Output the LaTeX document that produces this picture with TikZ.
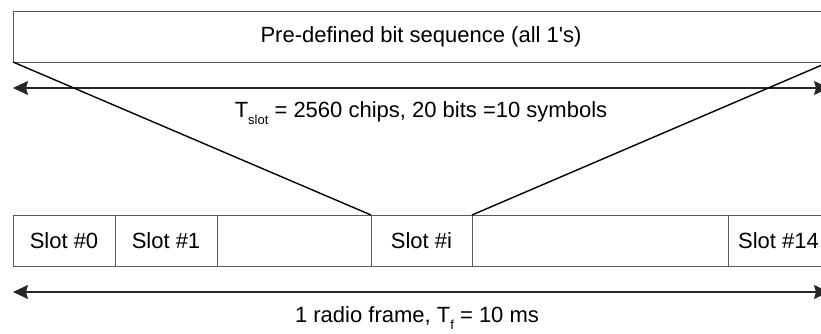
\documentclass[tikz,border=0pt]{standalone}
\usepackage{fontspec}
\setmainfont{Liberation Sans}
\usetikzlibrary{arrows.meta}
\definecolor{boxline}{gray}{0.35}
\tikzset{
  every node/.style={font=\fontsize{22}{26}\selectfont, inner sep=0pt, outer sep=0pt},
  field/.style={draw=boxline, line width=1pt, anchor=north west, minimum height=51pt},
  span/.style={line width=1.1pt, draw=black!85, {Stealth[length=15pt,width=14pt,inset=2pt]}-{Stealth[length=15pt,width=14pt,inset=2pt]}},
  fan/.style={line width=1.4pt, draw=black},
  caption/.style={anchor=base}
}
\newcommand{\lowsub}[1]{\raisebox{-0.35em}{\fontsize{13}{13}\selectfont #1}}
\begin{document}
\begin{tikzpicture}[x=1pt, y=-1pt]
\useasboundingbox (0,0) rectangle (821,333);

% the pre-defined bit sequence of one slot
\node[field, minimum width=816pt] (seq) at (13,11) {};
\node at (seq.center) {Pre-defined bit sequence (all 1\textquotesingle s)};

% slot length
\coordinate (tl) at (13,88);
\coordinate (tr) at (829,88);
\draw[span] (tl) -- (tr);
\node[caption] (tslot) at (421,117) {T\lowsub{slot} = 2560 chips, 20 bits =10 symbols};

% slots of one radio frame
\node[field, minimum width=102pt] (s0) at (13,215) {};
\node at (s0.center) {Slot \#0};
\node[field, minimum width=102pt] (s1) at (115,215) {};
\node at (s1.center) {Slot \#1};
\node[field, minimum width=154pt] (sa) at (217,215) {};
\node[field, minimum width=101pt] (si) at (371,215) {};
\node at (si.center) {Slot \#i};
\node[field, minimum width=256pt] (sb) at (472,215) {};
\node[field, minimum width=101pt] (s14) at (728,215) {};
\node at (s14.center) {Slot \#14};

% fan-out from the slot to its bit sequence
\draw[fan] (seq.south west) -- (si.north west);
\draw[fan] (seq.south east) -- (si.north east);

% frame length
\coordinate (fl) at (13,292);
\coordinate (fr) at (829,292);
\draw[span] (fl) -- (fr);
\node[caption] (tframe) at (417,322) {1 radio frame, T\lowsub{f} = 10 ms};
\end{tikzpicture}
\end{document}
